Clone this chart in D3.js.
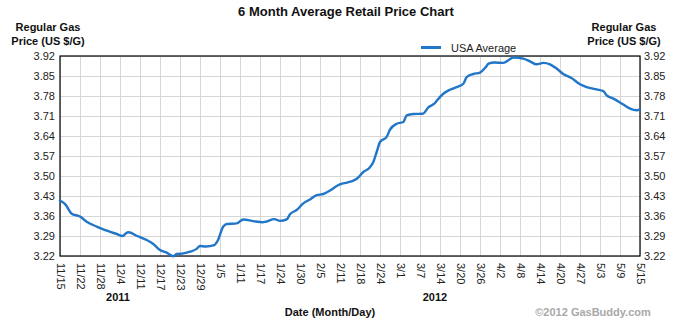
<!DOCTYPE html>
<html>
<head>
<meta charset="utf-8">
<script src="https://cdn.jsdelivr.net/npm/d3@7/dist/d3.min.js"></script>
<style>
  html, body { margin: 0; padding: 0; background: #fff; }
  svg { display: block; font-family: "Liberation Sans", Arial, sans-serif; }
</style>
</head>
<body>
<svg id="chart" width="683" height="328"></svg>
<script>
// ---- data ----
const tickLabels = ["11/15","11/22","11/28","12/4","12/11","12/17","12/23","12/29","1/5","1/11","1/17","1/24","1/30","2/5","2/11","2/18","2/24","3/1","3/7","3/14","3/20","3/26","4/2","4/8","4/14","4/20","4/27","5/3","5/9","5/15"];
const yTicks = [3.22,3.29,3.36,3.43,3.50,3.57,3.64,3.71,3.78,3.85,3.92];
const yearLabels = ["2011","2012"];
const seriesName = "USA Average";
// days since 2011-11-15
const dayOffsets = [0,2,4,7,9,12,14,18,20,21,22,25,28,30,32,34,36,37,39,41,43,44,46,49,50,52,53,56,58,61,64,65,68,70,72,73,75,77,79,81,83,85,87,89,90,92,94,96,98,99,100,101,103,104,106,108,109,111,114,116,118,119,121,123,125,127,128,130,132,134,135,137,140,141,143,146,148,150,152,154,156,158,161,164,166,169,171,172,174,177,179,181,182];
const prices = [3.414,3.399,3.369,3.358,3.340,3.323,3.313,3.297,3.290,3.299,3.303,3.290,3.276,3.262,3.241,3.232,3.219,3.227,3.229,3.235,3.245,3.255,3.253,3.258,3.270,3.323,3.332,3.334,3.348,3.342,3.338,3.340,3.349,3.343,3.348,3.366,3.381,3.404,3.418,3.433,3.437,3.449,3.465,3.474,3.476,3.481,3.491,3.514,3.531,3.549,3.584,3.619,3.637,3.662,3.683,3.689,3.712,3.717,3.718,3.741,3.753,3.765,3.788,3.802,3.811,3.823,3.846,3.857,3.862,3.881,3.893,3.897,3.896,3.901,3.915,3.911,3.901,3.891,3.896,3.891,3.876,3.858,3.843,3.821,3.811,3.803,3.797,3.782,3.771,3.750,3.736,3.730,3.733];

// ---- layout ----
const M = {left: 60, top: 56, right: 640, bottom: 256};
const W = M.right - M.left, H = M.bottom - M.top;
const svg = d3.select("#chart");
const font = "'Liberation Sans', Arial, sans-serif";

const start = new Date(2011, 10, 15);
const tickDates = tickLabels.map(s => {
  const [m, d] = s.split("/").map(Number);
  return new Date(m >= 11 ? 2011 : 2012, m - 1, d);
});
const step = W / (tickDates.length - 1);
const x = d3.scaleTime().domain(tickDates).range(tickDates.map((d, i) => i * step));
const y = d3.scaleLinear().domain([3.22, 3.92]).range([H, 0]);

const data = dayOffsets.map((o, i) => ({date: d3.timeDay.offset(start, o), value: prices[i]}));

const g = svg.append("g").attr("transform", `translate(${M.left},${M.top})`);

// grid
const gridColor = "#d6d6d6";
g.append("g").attr("class", "xgrid")
  .attr("transform", `translate(0,${H})`)
  .call(d3.axisBottom(x).tickValues(tickDates).tickSize(-H).tickFormat(""))
  .call(s => s.select(".domain").remove())
  .call(s => s.selectAll("line").attr("stroke", gridColor).attr("stroke-width", 1));
g.append("g").attr("class", "ygrid")
  .call(d3.axisLeft(y).tickValues(yTicks).tickSize(-W).tickFormat(""))
  .call(s => s.select(".domain").remove())
  .call(s => s.selectAll("line").attr("stroke", gridColor).attr("stroke-width", 1));

// frame
g.append("rect").attr("x", 0).attr("y", 0).attr("width", W).attr("height", H)
  .attr("fill", "none").attr("stroke", "#000").attr("stroke-width", 1.2);

// y axes
const styleAxis = s => {
  s.select(".domain").remove();
  s.selectAll("line").remove();
  s.selectAll("text").attr("font-family", font).attr("font-size", 11).attr("fill", "#222");
};
g.append("g").call(d3.axisLeft(y).tickValues(yTicks).tickFormat(d3.format(".2f")).tickSize(0).tickPadding(5)).call(styleAxis);
g.append("g").attr("transform", `translate(${W},0)`)
  .call(d3.axisRight(y).tickValues(yTicks).tickFormat(d3.format(".2f")).tickSize(0).tickPadding(4)).call(styleAxis);

// x axis
g.append("g").attr("transform", `translate(0,${H})`)
  .call(d3.axisBottom(x).tickValues(tickDates).tickFormat((d, i) => tickLabels[i]).tickSize(0))
  .call(styleAxis)
  .call(s => s.selectAll("text")
    .attr("transform", "rotate(90)")
    .attr("x", 7).attr("y", 0).attr("dy", "0.35em")
    .attr("text-anchor", "start"));

// line
const line = d3.line().x(d => x(d.date)).y(d => y(d.value)).curve(d3.curveMonotoneX);
g.append("path").datum(data).attr("d", line)
  .attr("fill", "none").attr("stroke", "#2176c7").attr("stroke-width", 2.4)
  .attr("stroke-linejoin", "round").attr("stroke-linecap", "round");

// titles
svg.append("text").attr("x", 346).attr("y", 16).attr("text-anchor", "middle")
  .attr("font-family", font).attr("font-size", 13).attr("font-weight", "bold").attr("fill", "#111")
  .text("6 Month Average Retail Price Chart");

[[48], [624]].forEach(([cx]) => {
  const t = svg.append("text").attr("text-anchor", "middle").attr("font-family", font)
    .attr("font-size", 11).attr("font-weight", "bold").attr("fill", "#111");
  t.append("tspan").attr("x", cx).attr("y", 31).text("Regular Gas");
  t.append("tspan").attr("x", cx).attr("y", 45).text("Price (US $/G)");
});

// legend
svg.append("line").attr("x1", 421).attr("x2", 441).attr("y1", 47.5).attr("y2", 47.5)
  .attr("stroke", "#2176c7").attr("stroke-width", 3);
svg.append("text").attr("x", 451).attr("y", 51.5).attr("font-family", font)
  .attr("font-size", 11).attr("fill", "#222").text(seriesName);

// year labels
const yearDates = [tickDates[3], tickDates[19]];
const yearShift = [-2, -5];
yearLabels.forEach((yl, i) => {
  svg.append("text").attr("x", M.left + x(yearDates[i]) + yearShift[i]).attr("y", 301)
    .attr("text-anchor", "middle").attr("font-family", font).attr("font-size", 11)
    .attr("font-weight", "bold").attr("fill", "#111").text(yl);
});

svg.append("text").attr("x", 330).attr("y", 316).attr("text-anchor", "middle")
  .attr("font-family", font).attr("font-size", 11).attr("font-weight", "bold").attr("fill", "#111")
  .text("Date (Month/Day)");
svg.append("text").attr("x", 593).attr("y", 316).attr("text-anchor", "middle")
  .attr("font-family", font).attr("font-size", 11).attr("font-weight", "bold").attr("fill", "#a8a8a8")
  .text("©2012 GasBuddy.com");
</script>
</body>
</html>
